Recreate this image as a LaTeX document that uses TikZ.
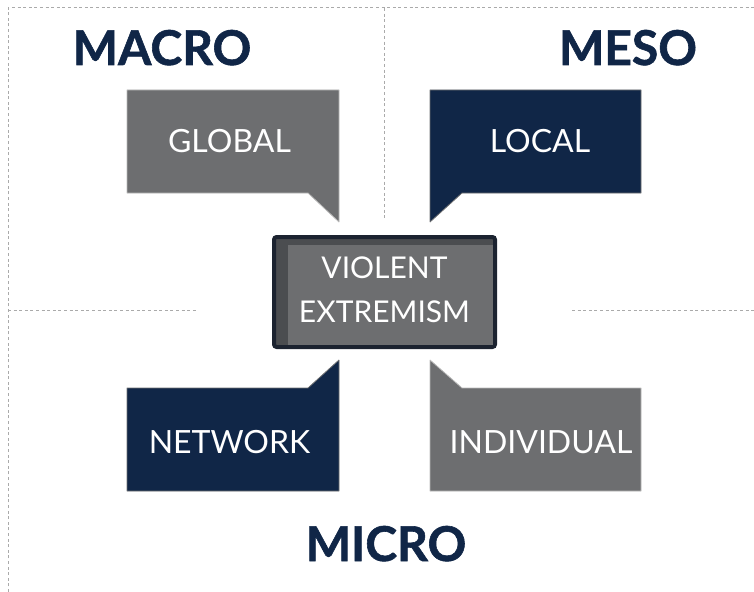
\documentclass[tikz,border=0pt]{standalone}
\usepackage{fontspec}
\setmainfont{Lato}
\newfontfamily\headfont{Lato}[BoldFeatures={FakeBold=1.2}]
\definecolor{navy}{RGB}{16,38,71}
\definecolor{slate}{RGB}{109,110,112}
\definecolor{shade}{RGB}{75,77,80}
\definecolor{rim}{RGB}{28,35,48}
\definecolor{dash}{RGB}{170,170,170}
\begin{document}
\begin{tikzpicture}[x=0.75pt,y=-0.75pt,
    heading/.style={font=\headfont\bfseries\fontsize{36}{40}\selectfont,text=navy,anchor=base,inner sep=0pt},
    tagtext/.style={font=\fontsize{24}{28}\selectfont,text=white,anchor=base,inner sep=0pt},
    greybox/.style={fill=slate,draw=gray!55,line width=0.6pt,line join=bevel},
    navybox/.style={fill=navy,draw=slate,line width=0.6pt,line join=bevel},
    quadline/.style={draw=dash,line width=0.75pt,dash pattern=on 2.2pt off 2pt}
]
\useasboundingbox (0,0) rectangle (754,592);

% quadrant lines
\draw[quadline] (8,592) -- (8,8) -- (754,8);
\draw[quadline] (384,8) -- (384,218);
\draw[quadline] (8,310) -- (197,310);
\draw[quadline] (572,310) -- (754,310);

% callouts
\path[greybox] (127,90) -- (339,90) -- (339,222) -- (308,193) -- (127,193) -- cycle;
\path[navybox] (430,90) -- (641,90) -- (641,193) -- (462,193) -- (430,222) -- cycle;
\path[navybox] (127,388) -- (308,388) -- (339,360) -- (339,491) -- (127,491) -- cycle;
\path[greybox] (430,360) -- (462,388) -- (641,388) -- (641,491) -- (430,491) -- cycle;

% centre box
\draw[draw=rim,fill=shade,line width=3pt,rounded corners=2pt] (274,237) rectangle (495,347);
\fill[slate] (288,245) rectangle (493,345);

\node[heading] (macro) at (162,65)  {MACRO};
\node[heading] (meso)  at (628,65)  {MESO};
\node[heading] (micro) at (386,561) {MICRO};

\node[tagtext] (global)     at (229.5,152) {GLOBAL};
\node[tagtext] (local)      at (540,152)   {LOCAL};
\node[tagtext] (network)    at (229.5,453) {NETWORK};
\node[tagtext] (individual) at (541,453)   {INDIVIDUAL};
\node[tagtext,align=center,font=\fontsize{22.5}{33}\selectfont] (core) at (384.5,322) {VIOLENT\\EXTREMISM};
\end{tikzpicture}
\end{document}
